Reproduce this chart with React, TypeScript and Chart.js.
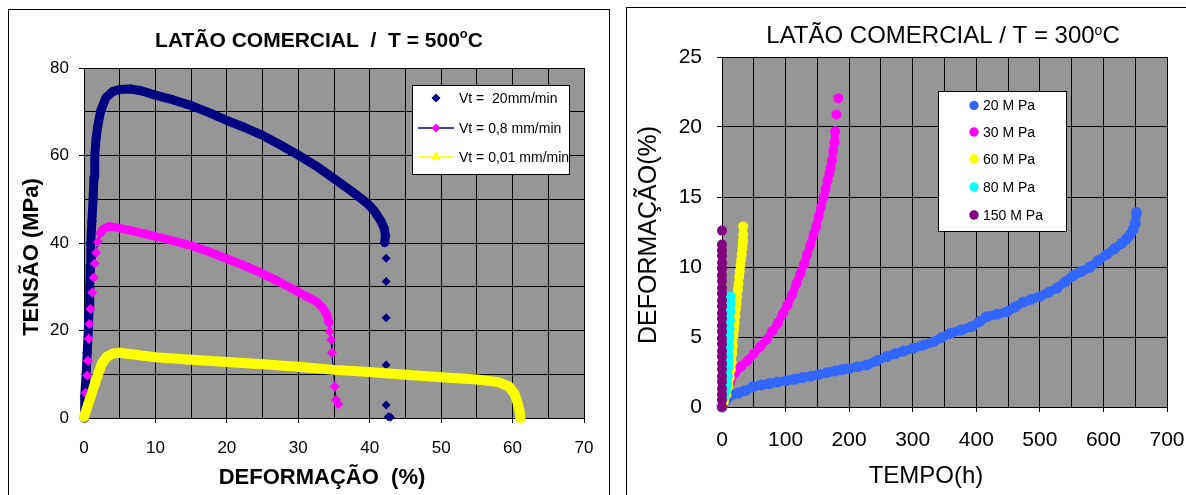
import React, { useEffect, useRef } from "react";
import { Chart, registerables } from "chart.js";

Chart.register(...registerables);

const FONT = "'Liberation Sans', Arial, Helvetica, sans-serif";

// ---------- colours ----------
const NAVY = "#000080";
const MAGENTA = "#FF00FF";
const YELLOW = "#FFFF00";
const BLUE = "#3366FF";
const CYAN = "#00FFFF";
const PURPLE = "#800080";
const PLOT_GRAY = "#969696";

// ---------- left chart: LATÃO COMERCIAL / T = 500°C ----------
const leftTitle = "LATÃO COMERCIAL  /  T = 500";
const leftXTitle = "DEFORMAÇÃO  (%)";
const leftYTitle = "TENSÃO (MPa)";
const leftXTicks = [0, 10, 20, 30, 40, 50, 60, 70];
const leftYTicks = [0, 20, 40, 60, 80];
const leftLegend = ["Vt =  20mm/min", "Vt = 0,8 mm/min", "Vt = 0,01 mm/min"];

// Vt = 20 mm/min (dense band + isolated points of the final drop)
const navyBandX = [0, 0.1, 0.3, 0.45, 0.6, 0.7, 0.8, 0.88, 0.95, 1.1, 1.27, 1.4, 1.5, 1.7, 1.9, 2.35, 3.1, 4.0, 5.0, 6.5, 8.0, 10, 12.5, 15, 17.5, 20, 22.5, 25, 27.5, 30, 32.5, 35, 37.5, 39.7, 40.7, 41.5, 42.0, 42.2, 42.1];
const navyBandY = [0, 5, 10, 15, 20, 25, 30, 35, 40, 45, 50, 55, 60, 64, 66.5, 70.3, 73.3, 74.6, 75.1, 75.2, 74.8, 73.8, 72.7, 71.4, 69.8, 68.0, 66.4, 64.6, 62.4, 60.1, 57.6, 54.7, 51.8, 49.0, 47.2, 45.2, 43.5, 41.8, 40.1];
const navyTailX = [42.3, 42.3, 42.3, 42.3, 42.3, 42.6, 42.9];
const navyTailY = [36.5, 31.2, 22.9, 12.1, 3.0, 0.3, 0.2];

// Vt = 0,8 mm/min (rise, dense band, final drop)
const magRiseX = [0.05, 0.2, 0.45, 0.53, 0.67, 0.77, 0.9, 1.14, 1.37, 1.5, 1.7, 1.95, 2.3];
const magRiseY = [0.5, 5.8, 9.7, 13.1, 18.1, 21.5, 24.9, 28.7, 32.1, 35.3, 37.8, 40.3, 42.3];
const magBandX = [2.3, 2.8, 3.5, 5, 7.5, 10, 12.5, 15, 17.5, 20, 22.5, 25, 27.5, 30, 31.5, 32.6, 33.4, 34.0, 34.3];
const magBandY = [42.3, 43.3, 43.8, 43.4, 42.5, 41.5, 40.5, 39.4, 38.0, 36.4, 34.8, 33.0, 31.0, 28.8, 27.5, 26.5, 25.2, 23.6, 21.8];
const magTailX = [34.3, 34.4, 34.6, 34.7, 35.1, 35.3, 35.6];
const magTailY = [21.8, 19.8, 17.9, 14.9, 7.2, 4.2, 3.2];

// Vt = 0,01 mm/min
const yelX = [0, 0.6, 1.2, 1.8, 2.5, 3.2, 4.0, 5, 7.5, 10, 15, 20, 25, 30, 35, 40, 45, 50, 55, 58, 59.5, 60.3, 60.7, 61.0, 61.1];
const yelY = [0.2, 3.2, 6.2, 9.2, 12.4, 14.0, 14.7, 14.9, 14.4, 13.9, 13.3, 12.8, 12.3, 11.7, 11.0, 10.5, 9.9, 9.3, 8.8, 8.2, 7.2, 5.5, 3.5, 1.5, 0];

// ---------- right chart: LATÃO COMERCIAL / T = 300°C ----------
const rightTitle = "LATÃO COMERCIAL / T = 300";
const rightXTitle = "TEMPO(h)";
const rightYTitle = "DEFORMAÇÃO(%)";
const rightXTicks = [0, 100, 200, 300, 400, 500, 600, 700];
const rightYTicks = [0, 5, 10, 15, 20, 25];
const rightLegend = ["20 M Pa", "30 M Pa", "60 M Pa", "80 M Pa", "150 M Pa"];

const p20X = [0, 7, 15, 26, 36, 49, 62, 75, 88, 101, 114, 127, 140, 152, 165, 178, 190, 200, 214, 228, 243, 259, 272, 286, 301, 317, 332, 345, 359, 376, 393, 405, 416, 432, 448, 461, 474, 487, 500, 514, 527, 540, 553, 566, 579, 592, 605, 617, 629, 636, 642, 647, 650, 652];
const p20Y = [0, 0.55, 0.86, 1.0, 1.16, 1.45, 1.58, 1.68, 1.78, 1.88, 1.98, 2.1, 2.2, 2.32, 2.45, 2.57, 2.68, 2.75, 2.88, 3.0, 3.3, 3.6, 3.8, 4.0, 4.2, 4.42, 4.65, 4.95, 5.26, 5.5, 5.74, 6.1, 6.45, 6.62, 6.8, 7.15, 7.5, 7.7, 7.9, 8.2, 8.5, 8.95, 9.4, 9.7, 10.0, 10.45, 10.9, 11.3, 11.7, 12.0, 12.3, 12.7, 13.1, 13.9];
const p30X = [0, 6, 12, 20, 30, 40, 50, 60, 70, 79, 88, 96, 103, 110, 117, 123, 129, 134, 139, 144, 148, 152, 156, 160, 163, 166, 169, 171, 173, 175, 177, 178, 180, 183];
const p30Y = [0, 0.8, 1.7, 2.4, 2.9, 3.3, 3.8, 4.3, 4.8, 5.4, 6.0, 6.7, 7.3, 8.0, 8.8, 9.5, 10.2, 10.9, 11.6, 12.3, 12.9, 13.6, 14.3, 15.0, 15.6, 16.2, 16.7, 17.1, 17.6, 18.3, 18.9, 19.7, 20.9, 22.05];
const p60X = [0, 3, 7, 10, 12, 14, 15, 16, 17, 18, 19, 20, 21, 22, 23, 24, 25, 26, 27, 28, 29, 30, 31, 32, 32.5, 33, 33.4, 33.4];
const p60Y = [0, 0.4, 0.9, 1.5, 2.1, 2.7, 3.2, 3.8, 4.4, 5.0, 5.5, 6.0, 6.5, 7.0, 7.4, 7.9, 8.4, 8.8, 9.3, 9.7, 10.1, 10.5, 10.9, 11.3, 11.6, 11.9, 12.3, 12.9];
const p80X = [0, 3, 6, 8, 9, 10, 10.5, 11, 11.5, 12, 12.5, 13, 13.3, 13.7];
const p80Y = [0.5, 0.7, 1.1, 1.6, 2.2, 2.9, 3.6, 4.3, 5.0, 5.6, 6.2, 6.8, 7.4, 7.9];
const p150X = [0, 0, 0, 0, 0, 0, 0, 0, 0, 0, 0, 0, 0, 0, 0, 0, 0, 0, 0, 0, 0, 0, 0, 0, 0, 0, 0, 0];
const p150Y = [0, 0.5, 0.9, 1.3, 1.8, 2.2, 2.7, 3.1, 3.6, 4.0, 4.5, 4.9, 5.4, 5.8, 6.3, 6.7, 7.2, 7.6, 8.1, 8.5, 9.0, 9.4, 9.9, 10.3, 10.8, 11.2, 11.6, 12.6];

// ---------- helpers ----------
const pts = (xs: number[], ys: number[]) => xs.map((x, i) => ({ x, y: ys[i] }));

type Part = { t: string; font: string; dy?: number };
type TextSpec = { parts: Part[]; x: number; y: number; rot?: number };
type LegendItem = { label: string; color: string; marker: string; r: number; line?: string };
type LegendSpec = {
  box: [number, number, number, number];
  rows: number[];
  markerX: number;
  lineX?: [number, number];
  textX: number;
  font: string;
  items: LegendItem[];
};

function drawRich(ctx: CanvasRenderingContext2D, s: TextSpec) {
  ctx.save();
  ctx.translate(s.x, s.y);
  if (s.rot) ctx.rotate(s.rot);
  ctx.textAlign = "left";
  ctx.textBaseline = "alphabetic";
  ctx.fillStyle = "#000";
  const widths = s.parts.map((p) => {
    ctx.font = p.font;
    return ctx.measureText(p.t).width;
  });
  let cx = -widths.reduce((a, b) => a + b, 0) / 2;
  s.parts.forEach((p, i) => {
    ctx.font = p.font;
    ctx.fillText(p.t, cx, p.dy || 0);
    cx += widths[i];
  });
  ctx.restore();
}

function drawMarker(ctx: CanvasRenderingContext2D, kind: string, x: number, y: number, r: number, color: string) {
  ctx.fillStyle = color;
  ctx.beginPath();
  if (kind === "rectRot") {
    ctx.moveTo(x, y - r);
    ctx.lineTo(x + r, y);
    ctx.lineTo(x, y + r);
    ctx.lineTo(x - r, y);
    ctx.closePath();
  } else if (kind === "triangle") {
    ctx.moveTo(x, y - r);
    ctx.lineTo(x + r * 0.866, y + r * 0.5);
    ctx.lineTo(x - r * 0.866, y + r * 0.5);
    ctx.closePath();
  } else {
    ctx.arc(x, y, r, 0, Math.PI * 2);
  }
  ctx.fill();
}

function drawLegend(ctx: CanvasRenderingContext2D, L: LegendSpec) {
  ctx.save();
  const [bx, by, bw, bh] = L.box;
  ctx.fillStyle = "#fff";
  ctx.fillRect(bx, by, bw, bh);
  ctx.strokeStyle = "#000";
  ctx.lineWidth = 1;
  ctx.strokeRect(bx + 0.5, by + 0.5, bw - 1, bh - 1);
  ctx.font = L.font;
  ctx.textBaseline = "middle";
  ctx.textAlign = "left";
  L.items.forEach((it, i) => {
    const y = L.rows[i];
    if (it.line && L.lineX) {
      ctx.strokeStyle = it.line;
      ctx.lineWidth = 1.5;
      ctx.beginPath();
      ctx.moveTo(L.lineX[0], y);
      ctx.lineTo(L.lineX[1], y);
      ctx.stroke();
    }
    drawMarker(ctx, it.marker, L.markerX, y, it.r, it.color);
    ctx.fillStyle = "#000";
    ctx.fillText(it.label, L.textX, y + 1);
  });
  ctx.restore();
}

function makeDeco(bg: string, texts: TextSpec[], legend: LegendSpec) {
  return {
    id: "deco",
    beforeDraw(chart: any) {
      const { ctx, chartArea: a } = chart;
      ctx.save();
      ctx.fillStyle = bg;
      ctx.fillRect(a.left, a.top, a.right - a.left, a.bottom - a.top);
      ctx.restore();
    },
    afterDraw(chart: any) {
      const ctx = chart.ctx as CanvasRenderingContext2D;
      texts.forEach((t) => drawRich(ctx, t));
      drawLegend(ctx, legend);
    },
  };
}

// fixed-size axis boxes so the plot area lands exactly where the reference has it
const fitX = (h: number) => (s: any) => {
  s.height = h;
  s.paddingLeft = 0;
  s.paddingRight = 0;
};
const fitY = (w: number) => (s: any) => {
  s.width = w;
  s.paddingTop = 0;
  s.paddingBottom = 0;
};

function axis(opts: {
  min: number; max: number; step: number; labels: number[]; size: number; padding: number; fit: (s: any) => void;
}) {
  return {
    type: "linear" as const,
    min: opts.min,
    max: opts.max,
    afterFit: opts.fit,
    border: { display: true, color: "#000", width: 1 },
    grid: {
      color: "#000",
      lineWidth: 1,
      drawTicks: true,
      tickLength: 5,
      tickColor: (c: any) => (c.tick && opts.labels.includes(c.tick.value) ? "#000" : "rgba(0,0,0,0)"),
    },
    ticks: {
      stepSize: opts.step,
      autoSkip: false,
      maxRotation: 0,
      minRotation: 0,
      padding: opts.padding,
      color: "#000",
      font: { family: FONT, size: opts.size },
      callback: (v: any) => (opts.labels.includes(Number(v)) ? String(v) : ""),
    },
  };
}

const baseDs = {
  showLine: true,
  clip: false as const,
  pointBorderWidth: 0,
  pointHoverRadius: 0,
  borderJoinStyle: "round" as const,
  borderCapStyle: "round" as const,
  tension: 0,
};

function leftConfig(): any {
  const texts: TextSpec[] = [
    {
      parts: [
        { t: leftTitle, font: `bold 21px ${FONT}` },
        { t: "o", font: `bold 13px ${FONT}`, dy: -9 },
        { t: "C", font: `bold 21px ${FONT}` },
      ],
      x: 310,
      y: 37,
    },
    { parts: [{ t: leftXTitle, font: `bold 22px ${FONT}` }], x: 313, y: 474 },
    { parts: [{ t: leftYTitle, font: `bold 22px ${FONT}` }], x: 29, y: 247, rot: -Math.PI / 2 },
  ];
  const legend: LegendSpec = {
    box: [403, 75, 158, 90],
    rows: [88, 118, 147],
    markerX: 427,
    lineX: [409, 445],
    textX: 450,
    font: `14px ${FONT}`,
    items: [
      { label: leftLegend[0], color: NAVY, marker: "rectRot", r: 4.5 },
      { label: leftLegend[1], color: MAGENTA, marker: "rectRot", r: 4.5, line: NAVY },
      { label: leftLegend[2], color: YELLOW, marker: "triangle", r: 5.5, line: YELLOW },
    ],
  };
  return {
    type: "scatter",
    data: {
      datasets: [
        { ...baseDs, label: leftLegend[0], data: pts(navyBandX, navyBandY), borderColor: NAVY, borderWidth: 9, pointStyle: "rectRot", pointRadius: 5, pointBackgroundColor: NAVY, order: 3 },
        { ...baseDs, label: leftLegend[0], data: pts(navyTailX, navyTailY), showLine: false, borderColor: NAVY, pointStyle: "rectRot", pointRadius: 4.5, pointBackgroundColor: NAVY, order: 3 },
        { ...baseDs, label: leftLegend[1], data: pts(magRiseX, magRiseY), borderColor: NAVY, borderWidth: 1, pointStyle: "rectRot", pointRadius: 5, pointBackgroundColor: MAGENTA, order: 2 },
        { ...baseDs, label: leftLegend[1], data: pts(magBandX, magBandY), borderColor: MAGENTA, borderWidth: 8.5, pointStyle: "rectRot", pointRadius: 4.5, pointBackgroundColor: MAGENTA, order: 2 },
        { ...baseDs, label: leftLegend[1], data: pts(magTailX, magTailY), borderColor: NAVY, borderWidth: 1, pointStyle: "rectRot", pointRadius: 5, pointBackgroundColor: MAGENTA, order: 2 },
        { ...baseDs, label: leftLegend[2], data: pts(yelX, yelY), borderColor: YELLOW, borderWidth: 10, pointStyle: "triangle", pointRadius: 5.5, pointBackgroundColor: YELLOW, order: 1 },
      ],
    },
    options: {
      animation: false,
      responsive: false,
      maintainAspectRatio: false,
      events: [],
      layout: { autoPadding: false, padding: { left: 0, top: 58, right: 24, bottom: 37 } },
      plugins: { legend: { display: false }, tooltip: { enabled: false }, title: { display: false } },
      scales: {
        x: axis({ min: 0, max: 70, step: 5, labels: leftXTicks, size: 17, padding: 15, fit: fitX(40) }),
        y: axis({ min: 0, max: 80, step: 10, labels: leftYTicks, size: 17, padding: 10, fit: fitY(75) }),
      },
    },
    plugins: [makeDeco(PLOT_GRAY, texts, legend)],
  };
}

function rightConfig(): any {
  const GAP = 13.5;
  const seg = (color: string) => ({
    borderColor: (c: any) =>
      Math.hypot(c.p1.x - c.p0.x, c.p1.y - c.p0.y) > GAP ? "rgba(0,0,0,0)" : color,
  });
  const ds = (label: string, xs: number[], ys: number[], color: string, order: number, r = 5, w = 8) => ({
    ...baseDs,
    label,
    data: pts(xs, ys),
    borderColor: color,
    borderWidth: w,
    segment: seg(color),
    pointStyle: "circle",
    pointRadius: r,
    pointBackgroundColor: color,
    order,
  });
  const texts: TextSpec[] = [
    {
      parts: [
        { t: rightTitle, font: `24px ${FONT}` },
        { t: "o", font: `14px ${FONT}`, dy: -8 },
        { t: "C", font: `24px ${FONT}` },
      ],
      x: 316,
      y: 35,
    },
    { parts: [{ t: rightXTitle, font: `24px ${FONT}` }], x: 299, y: 475 },
    { parts: [{ t: rightYTitle, font: `25px ${FONT}` }], x: 29, y: 227, rot: -Math.PI / 2 },
  ];
  const legend: LegendSpec = {
    box: [311, 83, 129, 141],
    rows: [97.5, 124, 151, 179, 207],
    markerX: 347,
    textX: 356,
    font: `14px ${FONT}`,
    items: [
      { label: rightLegend[0], color: BLUE, marker: "circle", r: 4.7 },
      { label: rightLegend[1], color: MAGENTA, marker: "circle", r: 4.7 },
      { label: rightLegend[2], color: YELLOW, marker: "circle", r: 4.7 },
      { label: rightLegend[3], color: CYAN, marker: "circle", r: 4.7 },
      { label: rightLegend[4], color: PURPLE, marker: "circle", r: 4.7 },
    ],
  };
  return {
    type: "scatter",
    data: {
      datasets: [
        ds(rightLegend[0], p20X, p20Y, BLUE, 5, 5.5, 9),
        ds(rightLegend[1], p30X, p30Y, MAGENTA, 4),
        ds(rightLegend[2], p60X, p60Y, YELLOW, 3),
        ds(rightLegend[3], p80X, p80Y, CYAN, 2),
        ds(rightLegend[4], p150X, p150Y, PURPLE, 1),
      ],
    },
    options: {
      animation: false,
      responsive: false,
      maintainAspectRatio: false,
      events: [],
      layout: { autoPadding: false, padding: { left: 0, top: 49, right: 19, bottom: 48 } },
      plugins: { legend: { display: false }, tooltip: { enabled: false }, title: { display: false } },
      scales: {
        x: axis({ min: 0, max: 700, step: 50, labels: rightXTicks, size: 21, padding: 16, fit: fitX(40) }),
        y: axis({ min: 0, max: 25, step: 5, labels: rightYTicks, size: 21, padding: 15, fit: fitY(95) }),
      },
    },
    plugins: [makeDeco(PLOT_GRAY, texts, legend)],
  };
}

export default function App() {
  const leftRef = useRef<HTMLCanvasElement>(null);
  const rightRef = useRef<HTMLCanvasElement>(null);

  useEffect(() => {
    const c1 = new Chart(leftRef.current as HTMLCanvasElement, leftConfig());
    const c2 = new Chart(rightRef.current as HTMLCanvasElement, rightConfig());
    return () => {
      c1.destroy();
      c2.destroy();
    };
  }, []);

  return (
    <div style={{ position: "absolute", left: 0, top: 0, width: 1186, height: 495, overflow: "hidden", background: "#fff" }}>
      <div style={{ position: "absolute", left: 8, top: 9, width: 602, height: 520, border: "1px solid #000", boxSizing: "border-box" }} />
      <div style={{ position: "absolute", left: 626, top: 7, width: 600, height: 520, border: "1px solid #000", boxSizing: "border-box" }} />
      <canvas ref={leftRef} width={599} height={485} style={{ position: "absolute", left: 9, top: 10, display: "block" }} />
      <canvas ref={rightRef} width={559} height={487} style={{ position: "absolute", left: 627, top: 8, display: "block" }} />
    </div>
  );
}
